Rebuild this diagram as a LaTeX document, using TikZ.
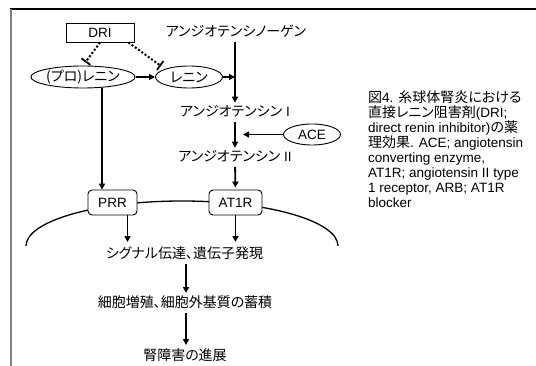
\documentclass[tikz,border=0pt]{standalone}
\usepackage{fontspec}
\setmainfont{Liberation Sans}
\newfontfamily\jpf[RawFeature=+palt]{Noto Sans CJK JP}
\newcommand\jp[1]{{\jpf\fontsize{14}{15}\selectfont #1}}
\usetikzlibrary{arrows.meta,shapes.geometric}
\begin{document}
\begin{tikzpicture}[x=1pt,y=-1pt,
  every node/.style={font=\fontsize{13.5}{15}\selectfont, inner sep=1pt},
  txt/.style={anchor=base},
  boxr/.style={draw, line width=0.9pt, minimum width=68pt, minimum height=19pt},
  ell/.style={draw, ellipse, line width=0.9pt, inner sep=0pt, fill=white},
  rec/.style={draw, rounded corners=4pt, line width=0.9pt, fill=white, minimum height=25pt, inner sep=0pt},
  arr/.style={line width=1.8pt, -{Triangle[length=6pt,width=6pt]}},
  inh/.style={line width=2pt, dash pattern=on 2pt off 2pt, -{Bar[width=11pt,line width=1.8pt]}},
  capline/.style={anchor=base west, inner sep=0pt},
  mem/.style={line width=1.3pt}]
\useasboundingbox (0,0) rectangle (536,366);
% frame
\draw[line width=1.3pt] (10,9) -- (536,9);
\draw[line width=1.5pt, gray] (11,9) -- (11,366);
% membrane
\draw[mem] (26,246) arc[start angle=180, end angle=360, x radius=156, y radius=45];
% nodes
\node[boxr] (dri) at (100,32.5) {DRI};
\node[txt] (agt) at (236,37) {\jp{アンジオテンシノーゲン}};
\node[ell, minimum width=84pt, minimum height=22pt] (pro) at (83,77) {\jp{(プロ)レニン}};
\node[ell, minimum width=67pt, minimum height=22pt] (ren) at (189,77) {\jp{レニン}};
\node[txt] (a1) at (235,117) {\jp{アンジオテンシン} I};
\node[ell, minimum width=57pt, minimum height=21pt] (ace) at (312,134.5) {ACE};
\node[txt] (a2) at (235,162) {\jp{アンジオテンシン} II};
\node[rec, minimum width=49pt] (prr) at (112.5,202.5) {PRR};
\node[rec, minimum width=53pt] (at1r) at (235.5,202.5) {AT1R};
\node[txt] (sig) at (184.5,259) {\jp{シグナル伝達、遺伝子発現}};
\node[txt] (cell) at (185,308) {\jp{細胞増殖、細胞外基質の蓄積}};
\node[txt] (kid) at (185,360) {\jp{腎障害の進展}};
% connectors
\draw[inh, shorten >=4pt] (dri.south) -- (pro.north);
\draw[inh, shorten >=5pt] ([xshift=-6pt]dri.south east) -- (ren.north west);
\draw[arr] (pro.east) -- (ren.west);
\draw[arr] (ren.east) -- (ren.east -| a1.north);
\draw[arr, shorten <=3pt, shorten >=2pt] (agt.south -| a1.north) -- (a1.north);
\draw[arr, shorten <=3pt, shorten >=2pt] (a1.south) -- (a2.north);
\draw[arr, shorten >=8pt] (ace.west) -- (ace.west -| a1.south);
\draw[arr, shorten <=3pt, shorten >=2pt] (a2.south) -- (at1r.north);
\draw[arr] ([xshift=19pt]pro.south) coordinate (ps) -- (ps |- prr.north);
\draw[arr, shorten >=4pt] ([xshift=15pt]prr.south) -- ([xshift=15pt]prr.south |- sig.north);
\draw[arr, shorten >=4pt] (at1r.south) -- (at1r.south |- sig.north);
\draw[arr, shorten <=3pt, shorten >=2pt] ([xshift=1.5pt]sig.south) -- ([xshift=1pt]cell.north);
\draw[arr, shorten <=3pt, shorten >=2pt] ([xshift=1pt]cell.south) -- ([xshift=1pt]kid.north);
% caption
\node[capline] (c1) at (368,103) {\jp{図}4. \jp{糸球体腎炎における}};
\node[capline] (c2) at (368,118) {\jp{直接レニン阻害剤}(DRI;};
\node[capline] (c3) at (368,133) {direct renin inhibitor)\jp{の薬}};
\node[capline] (c4) at (368,148) {\jp{理効果}. ACE; angiotensin};
\node[capline] (c5) at (368,163) {converting enzyme,};
\node[capline] (c6) at (368,178) {AT1R; angiotensin II type};
\node[capline] (c7) at (368,193) {1 receptor, ARB; AT1R};
\node[capline] (c8) at (368,208) {blocker};
\end{tikzpicture}
\end{document}
